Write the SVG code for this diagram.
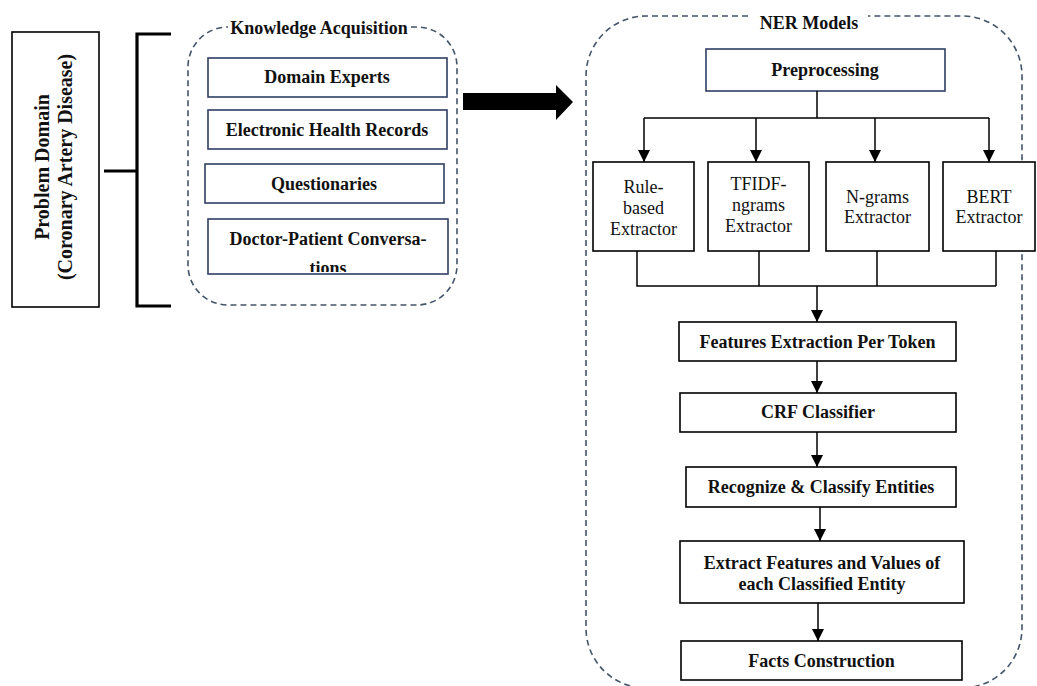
<svg xmlns="http://www.w3.org/2000/svg" width="1037" height="686" viewBox="0 0 1037 686">
<style>
.bg{fill:#ffffff}
.box{fill:#ffffff;stroke:#000000;stroke-width:1.6}
.nbox{fill:#ffffff;stroke:#2f3f63;stroke-width:1.6}
.dash{fill:none;stroke:#44546a;stroke-width:1.6;stroke-dasharray:6 4}
.b{font-family:"Liberation Serif","Times New Roman",serif;font-weight:bold;font-size:18px;fill:#111;text-anchor:middle}
.r{font-family:"Liberation Serif","Times New Roman",serif;font-size:18px;fill:#111;text-anchor:middle}
.pd{font-family:"Liberation Serif","Times New Roman",serif;font-weight:bold;font-size:20px;fill:#111;text-anchor:middle}
.ln{fill:none;stroke:#000;stroke-width:1.5}
.thick{fill:none;stroke:#000;stroke-width:3.2}
</style>
<defs>
<marker id="ah" markerWidth="12" markerHeight="12" refX="12" refY="6" orient="auto" markerUnits="userSpaceOnUse">
<path d="M0,0 L12,6 L0,12 Z" fill="#000"/>
</marker>
<clipPath id="dpclip"><rect x="208" y="219" width="240" height="53"/></clipPath>
</defs>
<rect class="bg" x="0" y="0" width="1037" height="686"/>

<g id="problem-domain">
<rect class="box" x="12" y="32" width="87" height="275"/>
<text class="pd" transform="translate(49,167) rotate(-90)">Problem Domain</text>
<text class="pd" transform="translate(72,167) rotate(-90)">(Coronary Artery Disease)</text>
</g>

<g id="knowledge-acquisition">
<path class="dash" d="M227,27 L228,27 M411,27 L417,27 A40,40 0 0 1 457,67 L457,265 A40,40 0 0 1 417,305 L228,305 A40,40 0 0 1 188,265 L188,67 A40,40 0 0 1 228,27"/>
<text class="b" x="319" y="34">Knowledge Acquisition</text>
</g>

<g id="domain-experts">
<rect class="nbox" x="208" y="58" width="239" height="39"/>
<text class="b" x="327" y="83">Domain Experts</text>
</g>
<g id="ehr">
<rect class="nbox" x="208" y="110" width="239" height="39"/>
<text class="b" x="327" y="136">Electronic Health Records</text>
</g>
<g id="questionaries">
<rect class="nbox" x="205" y="164" width="239" height="39"/>
<text class="b" x="324" y="190">Questionaries</text>
</g>
<g id="doctor-patient">
<rect class="nbox" x="208" y="219" width="240" height="55"/>
<text class="b" x="328" y="245">Doctor-Patient Conversa-</text>
<text class="b" x="328" y="274" clip-path="url(#dpclip)">tions</text>
</g>

<g id="ner-models">
<path class="dash" d="M748,16 L646,16 A60,60 0 0 0 586,76 L586,628 A60,60 0 0 0 646,688 L962,688 A60,60 0 0 0 1022,628 L1022,76 A60,60 0 0 0 962,16 L868,16"/>
<text class="b" x="809" y="29">NER Models</text>
</g>

<g id="preprocessing">
<rect class="nbox" x="706" y="49" width="239" height="42"/>
<text class="b" x="825" y="76">Preprocessing</text>
</g>
<g id="rule-based">
<rect class="box" x="593" y="162" width="101" height="89"/>
<text class="r" x="643.5" y="193">Rule-</text>
<text class="r" x="643.5" y="214">based</text>
<text class="r" x="643.5" y="235">Extractor</text>
</g>
<g id="tfidf">
<rect class="box" x="708" y="162" width="101" height="89"/>
<text class="r" x="758.5" y="190">TFIDF-</text>
<text class="r" x="758.5" y="211">ngrams</text>
<text class="r" x="758.5" y="232">Extractor</text>
</g>
<g id="ngrams">
<rect class="box" x="826" y="162" width="103" height="89"/>
<text class="r" x="877.5" y="203">N-grams</text>
<text class="r" x="877.5" y="223">Extractor</text>
</g>
<g id="bert">
<rect class="box" x="943" y="162" width="92" height="89"/>
<text class="r" x="989" y="203">BERT</text>
<text class="r" x="989" y="223">Extractor</text>
</g>
<g id="features-extraction">
<rect class="box" x="679" y="322" width="277" height="39"/>
<text class="b" x="817.5" y="348">Features Extraction Per Token</text>
</g>
<g id="crf">
<rect class="box" x="680" y="393" width="276" height="39"/>
<text class="b" x="818" y="418">CRF Classifier</text>
</g>
<g id="recognize">
<rect class="box" x="686" y="467" width="270" height="40"/>
<text class="b" x="821" y="493">Recognize &amp; Classify Entities</text>
</g>
<g id="extract-features">
<rect class="box" x="680" y="541" width="284" height="62"/>
<text class="b" x="822" y="569">Extract Features and Values of</text>
<text class="b" x="822" y="590">each Classified Entity</text>
</g>
<g id="facts">
<rect class="box" x="681" y="641" width="281" height="39"/>
<text class="b" x="821.5" y="667">Facts Construction</text>
</g>

<g id="connectors">
<path class="thick" d="M171,34 L137,34 L137,306 L171,306 M104,171 L137,171"/>
<path d="M463,93 L556,93 L556,85 L573,102 L556,120 L556,110 L463,110 Z" fill="#000"/>
<path class="ln" d="M817,91 L817,118 M644,118 L989,118"/>
<path class="ln" d="M644,118 L644,162" marker-end="url(#ah)"/>
<path class="ln" d="M756,118 L756,162" marker-end="url(#ah)"/>
<path class="ln" d="M875,118 L875,162" marker-end="url(#ah)"/>
<path class="ln" d="M989,118 L989,162" marker-end="url(#ah)"/>
<path class="ln" d="M637,251 L637,286 L996,286 M759,251 L759,286 M877,251 L877,286 M996,251 L996,286"/>
<path class="ln" d="M817,286 L817,322" marker-end="url(#ah)"/>
<path class="ln" d="M817,361 L817,393" marker-end="url(#ah)"/>
<path class="ln" d="M817,432 L817,467" marker-end="url(#ah)"/>
<path class="ln" d="M820,507 L820,541" marker-end="url(#ah)"/>
<path class="ln" d="M818,603 L818,641" marker-end="url(#ah)"/>
</g>
</svg>
